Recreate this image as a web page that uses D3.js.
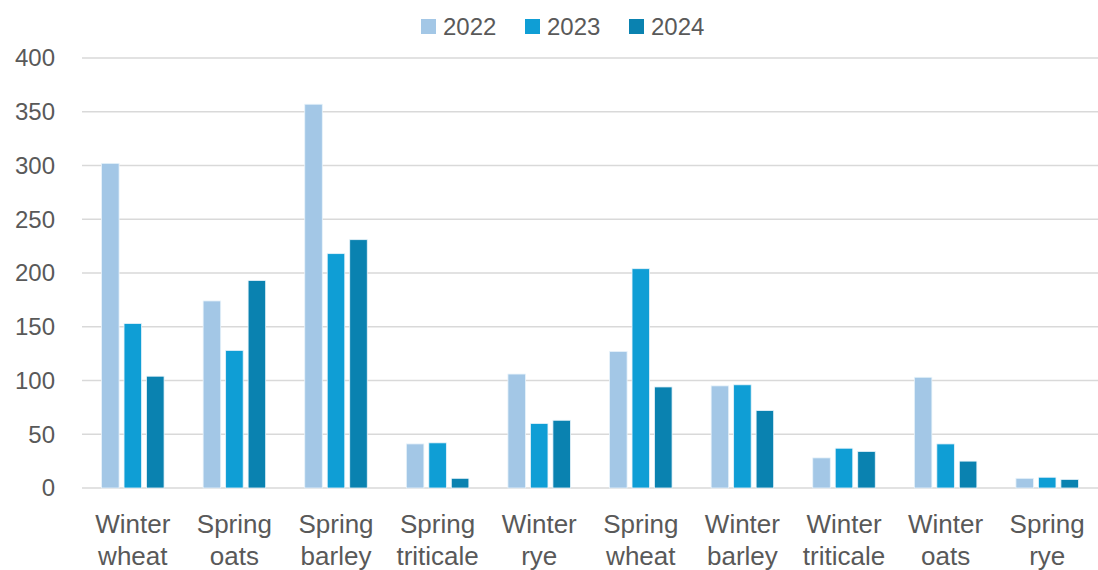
<!DOCTYPE html>
<html>
<head>
<meta charset="utf-8">
<script src="https://cdn.jsdelivr.net/npm/d3@7"></script>
<style>
  body { margin: 0; background: #fff; }
  text { font-family: "Liberation Sans", Arial, sans-serif; fill: #595959; }
</style>
</head>
<body>
<script>
// data
const categories = [
  ["Winter", "wheat"], ["Spring", "oats"], ["Spring", "barley"], ["Spring", "triticale"],
  ["Winter", "rye"], ["Spring", "wheat"], ["Winter", "barley"], ["Winter", "triticale"],
  ["Winter", "oats"], ["Spring", "rye"]
];
const years = ["2022", "2023", "2024"];
const values2022 = [302, 174, 357, 41, 106, 127, 95, 28, 103, 9];
const values2023 = [153, 128, 218, 42, 60, 204, 96, 37, 41, 10];
const values2024 = [104, 193, 231, 9, 63, 94, 72, 34, 25, 8];
const yTicks = [0, 50, 100, 150, 200, 250, 300, 350, 400];
const colors = ["#a3c7e6", "#0f9ed5", "#0a82b0"];

const width = 1098, height = 570;
const margin = { left: 82, right: 0, top: 58, bottom: 82 };

let svg = d3.select("body").append("svg")
  .attr("width", width)
  .attr("height", height);

let x0 = d3.scaleBand()
  .domain(d3.range(categories.length))
  .range([margin.left, width - margin.right])
  .paddingInner(0.336)
  .paddingOuter(0.168);

let x1 = d3.scaleBand()
  .domain(years)
  .range([0, x0.bandwidth()])
  .paddingInner(0.22)
  .paddingOuter(0.11);

let y = d3.scaleLinear()
  .domain([0, 400])
  .range([height - margin.bottom, margin.top]);

// gridlines
svg.append("g")
  .selectAll("line")
  .data(yTicks)
  .enter()
  .append("line")
  .attr("x1", margin.left)
  .attr("x2", width - margin.right)
  .attr("y1", d => y(d))
  .attr("y2", d => y(d))
  .style("stroke", "#d9d9d9")
  .style("stroke-width", 1.5);

// y axis labels
svg.append("g")
  .selectAll("text")
  .data(yTicks)
  .enter()
  .append("text")
  .attr("x", 55)
  .attr("y", d => y(d))
  .attr("dy", "0.35em")
  .attr("text-anchor", "end")
  .style("font-size", "24px")
  .text(d => d);

// bars
const series = [values2022, values2023, values2024];
let rows = categories.map((c, i) => years.map((yr, j) => ({ i: i, year: yr, value: series[j][i], color: colors[j] })));

let groups = svg.selectAll(".group")
  .data(rows)
  .enter()
  .append("g")
  .attr("class", "group")
  .attr("transform", (d, i) => "translate(" + x0(i) + ",0)");

groups.selectAll("rect")
  .data(d => d)
  .enter()
  .append("rect")
  .attr("x", d => x1(d.year))
  .attr("y", d => y(d.value))
  .attr("width", x1.bandwidth())
  .attr("height", d => y(0) - y(d.value))
  .style("fill", d => d.color)
  .style("stroke", "#e8f3fa")
  .style("stroke-width", 0.8);

// x labels, two lines each
let xLabels = svg.append("g")
  .selectAll("g")
  .data(categories)
  .enter()
  .append("g")
  .attr("transform", (d, i) => "translate(" + (x0(i) + x0.bandwidth() / 2) + ",0)");

xLabels.append("text")
  .attr("y", 533)
  .attr("text-anchor", "middle")
  .style("font-size", "26px")
  .text(d => d[0]);

xLabels.append("text")
  .attr("y", 565)
  .attr("text-anchor", "middle")
  .style("font-size", "26px")
  .text(d => d[1]);

// legend
let legend = svg.append("g")
  .selectAll("g")
  .data(years)
  .enter()
  .append("g")
  .attr("transform", (d, i) => "translate(" + (421 + i * 104) + ",19)");

legend.append("rect")
  .attr("width", 15)
  .attr("height", 15)
  .style("fill", (d, i) => colors[i]);

legend.append("text")
  .attr("x", 22)
  .attr("y", 7.5)
  .attr("dy", "0.35em")
  .style("font-size", "24px")
  .text(d => d);
</script>
</body>
</html>
